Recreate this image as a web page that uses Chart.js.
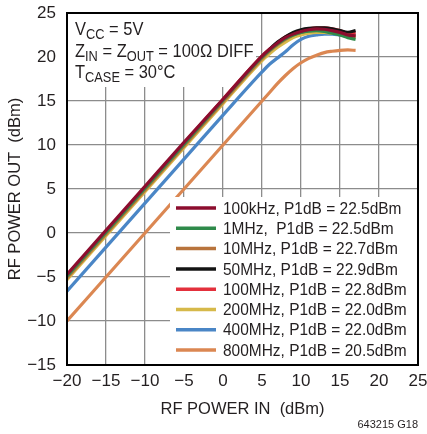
<!DOCTYPE html>
<html lang="en">
<head>
<meta charset="UTF-8">
<title>RF Power Out vs RF Power In</title>
<script src="https://cdn.jsdelivr.net/npm/chart.js"></script>
<style>
  html, body { margin: 0; padding: 0; background: #fff; }
</style>
</head>
<body>
<canvas id="myChart" width="427" height="434"></canvas>
<script>
    // RF power in (dBm)
    const powerIn = [-20, -15, -10, -5, 0, 5, 6, 7, 8, 9, 10, 11, 12, 13, 14, 15, 16, 17];

    // RF power out (dBm), one array per frequency
    const out100k = [-4.7, 0.3, 5.3, 10.3, 15.2, 20.1, 20.9, 21.6, 22.2, 22.6, 22.9, 23.1, 23.2, 23.15, 23.0, 22.8, 22.5, 22.4];
    const out1M   = [-4.9, 0.1, 5.1, 10.1, 15.1, 20.0, 20.8, 21.5, 22.1, 22.5, 22.8, 22.95, 23.0, 22.9, 22.7, 22.5, 22.2, 22.0];
    const out10M  = [-5.1, -0.1, 4.9, 9.9, 14.9, 19.8, 20.7, 21.4, 22.0, 22.5, 22.8, 23.0, 23.05, 23.0, 22.9, 22.7, 22.5, 22.4];
    const out50M  = [-5.0, 0.0, 5.0, 10.0, 15.0, 20.0, 20.9, 21.7, 22.3, 22.8, 23.1, 23.25, 23.3, 23.3, 23.2, 23.0, 22.8, 23.0];
    const out100M = [-4.8, 0.2, 5.2, 10.2, 15.2, 20.1, 20.9, 21.6, 22.3, 22.7, 23.0, 23.2, 23.3, 23.3, 23.2, 23.0, 22.7, 22.8];
    const out200M = [-5.3, -0.3, 4.7, 9.7, 14.7, 19.6, 20.4, 21.1, 21.7, 22.2, 22.5, 22.7, 22.8, 22.8, 22.7, 22.6, 22.4, 22.3];
    const out400M = [-6.6, -1.6, 3.4, 8.4, 13.4, 18.3, 19.2, 19.9, 20.6, 21.4, 22.0, 22.35, 22.5, 22.6, 22.6, 22.5, 22.4, 22.5];
    const out800M = [-10, -5, 0, 5, 10, 15, 16, 17, 17.9, 18.7, 19.35, 19.85, 20.2, 20.5, 20.65, 20.75, 20.8, 20.75];

    const seriesLabels = [
        '100kHz, P1dB = 22.5dBm',
        '1MHz,  P1dB = 22.5dBm',
        '10MHz, P1dB = 22.7dBm',
        '50MHz, P1dB = 22.9dBm',
        '100MHz, P1dB = 22.8dBm',
        '200MHz, P1dB = 22.0dBm',
        '400MHz, P1dB = 22.0dBm',
        '800MHz, P1dB = 20.5dBm'
    ];
    const seriesData = [out100k, out1M, out10M, out50M, out100M, out200M, out400M, out800M];
    const seriesColors = ['#8c0d2e', '#2f8a4a', '#b8743c', '#141414', '#e3303c', '#d6b94a', '#4a86c6', '#db8752'];

    const xMin = -20, xMax = 25, yMin = -15, yMax = 25, tickStep = 5;

    const FONT = "'Liberation Sans', Arial, sans-serif";
    const TEXT = '#231f20';

    function fmt(v) {
        return v < 0 ? '\u2212' + Math.abs(v) : String(v);
    }

    // text squeezed sideways a little, the original uses a condensed face
    function narrowText(ctx, txt, x, y, sx) {
        ctx.save();
        ctx.translate(x, y);
        ctx.scale(sx, 1);
        ctx.fillText(txt, 0, 0);
        ctx.restore();
        return ctx.measureText(txt).width * sx;
    }

    function drawRich(ctx, x, y, parts) {
        parts.forEach(function (p) {
            const sub = p[1];
            ctx.font = (sub ? '14px ' : '18px ') + FONT;
            x += narrowText(ctx, p[0], x, sub ? y + 4 : y, 0.915);
        });
    }

    const decor = {
        id: 'decor',
        beforeDatasetsDraw(chart) {
            const ctx = chart.ctx;
            const a = chart.chartArea;
            ctx.save();
            ctx.fillStyle = '#fff';
            ctx.fillRect(a.left + 1, a.top + 1, 188, 73);
            ctx.fillStyle = TEXT;
            ctx.textBaseline = 'alphabetic';
            drawRich(ctx, 75, 35, [['V', 0], ['CC', 1], [' = 5V', 0]]);
            drawRich(ctx, 75, 57, [['Z', 0], ['IN', 1], [' = Z', 0], ['OUT', 1], [' = 100\u03A9 DIFF', 0]]);
            drawRich(ctx, 75, 78, [['T', 0], ['CASE', 1], [' = 30\u00B0C', 0]]);
            ctx.restore();
        },
        afterDatasetsDraw(chart) {
            const ctx = chart.ctx;
            const a = chart.chartArea;
            ctx.save();
            ctx.fillStyle = '#fff';
            ctx.fillRect(170, 197, a.right - 170, a.bottom - 197);
            ctx.font = '17px ' + FONT;
            ctx.textBaseline = 'middle';
            seriesLabels.forEach(function (lbl, i) {
                const y = 208 + i * 20.3;
                ctx.strokeStyle = seriesColors[i];
                ctx.lineWidth = 3.5;
                ctx.beginPath();
                ctx.moveTo(176, y);
                ctx.lineTo(216, y);
                ctx.stroke();
                ctx.fillStyle = TEXT;
                narrowText(ctx, lbl, 223, y + 1, 0.91);
            });
            ctx.restore();
        },
        afterDraw(chart) {
            const ctx = chart.ctx;
            const a = chart.chartArea;
            ctx.save();
            ctx.strokeStyle = '#000';
            ctx.lineWidth = 2;
            ctx.strokeRect(a.left, a.top, a.right - a.left, a.bottom - a.top);
            ctx.fillStyle = TEXT;
            ctx.font = '11px ' + FONT;
            ctx.textAlign = 'right';
            ctx.textBaseline = 'alphabetic';
            ctx.fillText('643215 G18', 418, 428);
            ctx.restore();
        }
    };

    const datasets = seriesData.map(function (vals, i) {
        return {
            label: seriesLabels[i],
            data: powerIn.map(function (x, j) { return {x: x, y: vals[j]}; }),
            borderColor: seriesColors[i],
            backgroundColor: seriesColors[i],
            borderWidth: 3.2,
            pointRadius: 0,
            fill: false,
            cubicInterpolationMode: 'monotone'
        };
    });

    const ctx = document.getElementById('myChart').getContext('2d');
    new Chart(ctx, {
        type: 'line',
        data: {datasets: datasets},
        options: {
            responsive: false,
            animation: false,
            layout: {padding: {top: 13, right: 9, left: 0, bottom: 0}},
            plugins: {legend: {display: false}, tooltip: {enabled: false}},
            scales: {
                x: {
                    type: 'linear',
                    min: xMin,
                    max: xMax,
                    afterFit: function (s) { s.height = 69; s.paddingLeft = 0; s.paddingRight = 0; },
                    ticks: {stepSize: tickStep, padding: 6, color: TEXT, font: {family: FONT, size: 17}, callback: fmt, maxRotation: 0},
                    grid: {color: '#8c8c8c', lineWidth: 1.3, drawTicks: false},
                    border: {display: false},
                    title: {display: true, text: 'RF POWER IN  (dBm)', color: TEXT, font: {family: FONT, size: 16.5}, padding: {top: 0, bottom: 15}}
                },
                y: {
                    type: 'linear',
                    min: yMin,
                    max: yMax,
                    afterFit: function (s) { s.width = 67; s.paddingTop = 0; s.paddingBottom = 0; },
                    ticks: {stepSize: tickStep, padding: 11, color: TEXT, font: {family: FONT, size: 17}, callback: fmt},
                    grid: {color: '#8c8c8c', lineWidth: 1.3, drawTicks: false},
                    border: {display: false},
                    title: {display: true, text: 'RF POWER OUT  (dBm)', color: TEXT, font: {family: FONT, size: 16.5}, padding: {top: 6, bottom: 0}}
                }
            }
        },
        plugins: [decor]
    });
</script>
</body>
</html>
